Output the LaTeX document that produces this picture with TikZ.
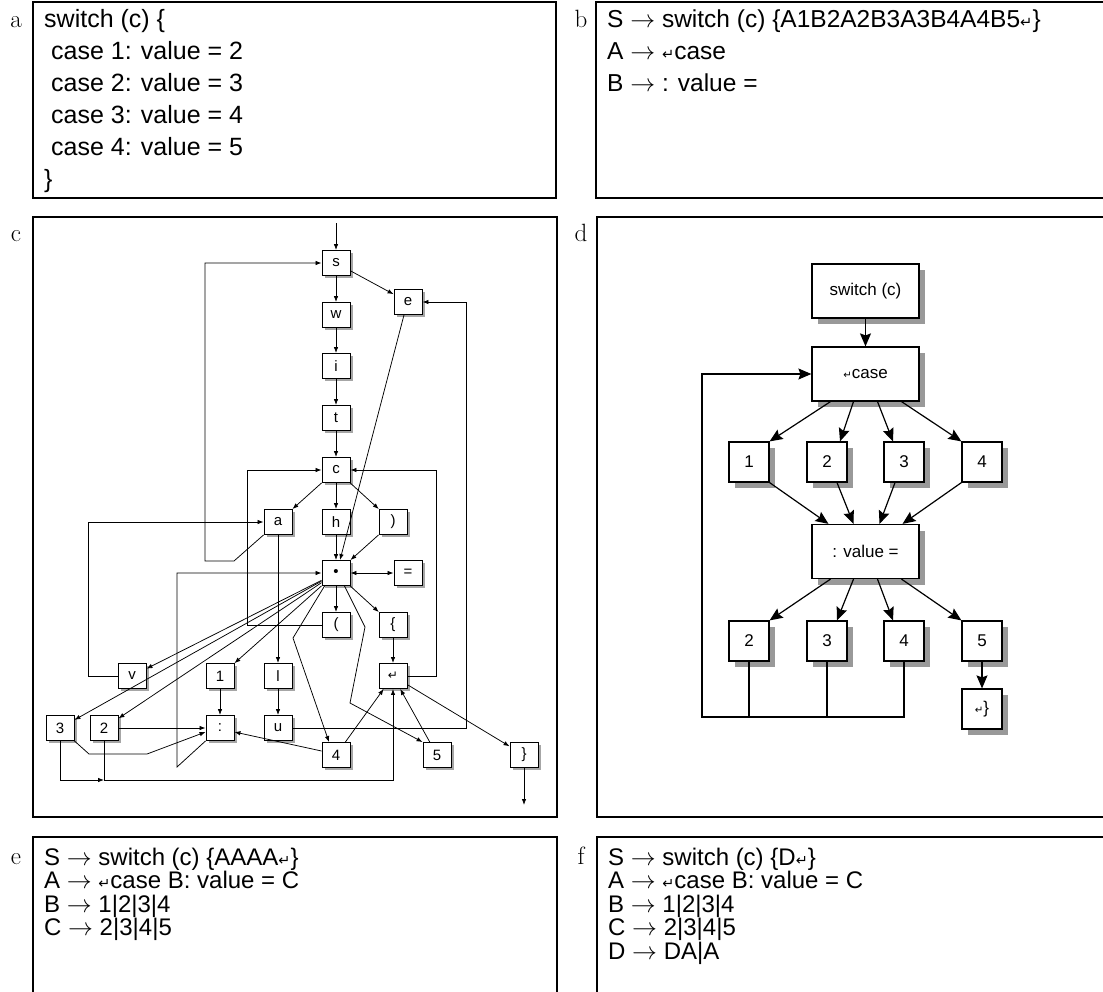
\documentclass[tikz,border=0pt]{standalone}
\usepackage{fontspec}
\usepackage{graphicx}
\usetikzlibrary{arrows.meta,shadows}
\newfontfamily\arial{Liberation Sans}
\newfontfamily\dejavu{DejaVu Sans}
\newcommand{\crt}{\scalebox{0.6}{\dejavu ↵}}
\newcommand{\crtc}{\scalebox{0.8}{\dejavu ↵}}
\tikzset{
  panel/.style={draw, line width=1.3pt},
  lab/.style={anchor=base, inner sep=0pt, font=\fontsize{25}{25}\selectfont},
  txt/.style={anchor=base west, inner sep=0pt, font=\arial\fontsize{25}{25}\selectfont},
  txtb/.style={anchor=base west, inner sep=0pt, font=\arial\fontsize{24.5}{24.5}\selectfont},
  txte/.style={anchor=base west, inner sep=0pt, font=\arial\fontsize{24}{24}\selectfont},
  cbox/.style={draw, line width=0.9pt, fill=white, minimum width=28pt, minimum height=25pt, inner sep=0pt,
    font=\arial\fontsize{15}{15}\selectfont,
    drop shadow={shadow xshift=2.5pt, shadow yshift=-2.5pt, fill=black!35, opacity=1}},
  ca/.style={line width=0.75pt, -{Latex[length=6pt,width=4.5pt]}},
  cl/.style={line width=0.75pt},
  dbox/.style={draw, line width=1.2pt, fill=white, inner sep=0pt,
    font=\arial\fontsize{17}{17}\selectfont,
    drop shadow={shadow xshift=6pt, shadow yshift=-6pt, fill=black!40, opacity=1}},
  dsq/.style={dbox, minimum width=40pt, minimum height=40pt},
  dwide/.style={dbox, minimum width=107pt, minimum height=54pt},
  da/.style={line width=1.2pt, -{Stealth[length=13pt,width=11pt,inset=2pt]}},
  dl/.style={line width=1.2pt}
}
\begin{document}
\begin{tikzpicture}[x=1pt,y=-1pt]
\useasboundingbox (0,0) rectangle (1103,991);
% ---------- panel frames ----------
\draw[panel] (33,2) rectangle (556,198);
\draw[panel] (596,2) rectangle (1106,198);
\draw[panel] (33,217) rectangle (557,817);
\draw[panel] (597,217) rectangle (1106,817);
\draw[panel] (33,837) rectangle (557,996);
\draw[panel] (597,837) rectangle (1106,996);
% ---------- labels ----------
\node[lab] (la) at (16,27) {a};
\node[lab] (lb) at (581,27) {b};
\node[lab] (lc) at (16,241) {c};
\node[lab] (ld) at (581,241) {d};
\node[lab] (le) at (16,864) {e};
\node[lab] (lf) at (581,864) {f};
% ---------- panel a ----------
\node[txt] (a1) at (44,27) {switch (c) \{};
\node[txt] (a2) at (44,59) {\ case 1: value = 2};
\node[txt] (a3) at (44,91) {\ case 2: value = 3};
\node[txt] (a4) at (44,123) {\ case 3: value = 4};
\node[txt] (a5) at (44,155) {\ case 4: value = 5};
\node[txt] (a6) at (44,187) {\}};
% ---------- panel b ----------
\node[txtb] (b1) at (607,27) {S $\rightarrow$ switch (c) \{A1B2A2B3A3B4A4B5\crt\}};
\node[txtb] (b2) at (607,59) {A $\rightarrow$ \crt case};
\node[txtb] (b3) at (607,91) {B $\rightarrow$ : value =};
% ---------- panel e ----------
\node[txte] (e1) at (44,865) {S $\rightarrow$ switch (c) \{AAAA\crt\}};
\node[txte] (e2) at (44,888.5) {A $\rightarrow$ \crt case B: value = C};
\node[txte] (e3) at (44,912) {B $\rightarrow$ 1|2|3|4};
\node[txte] (e4) at (44,935.5) {C $\rightarrow$ 2|3|4|5};
% ---------- panel f ----------
\node[txte] (f1) at (608,865) {S $\rightarrow$ switch (c) \{D\crt\}};
\node[txte] (f2) at (608,888.5) {A $\rightarrow$ \crt case B: value = C};
\node[txte] (f3) at (608,912) {B $\rightarrow$ 1|2|3|4};
\node[txte] (f4) at (608,935.5) {C $\rightarrow$ 2|3|4|5};
\node[txte] (f5) at (608,959) {D $\rightarrow$ DA|A};
% ---------- panel c : nodes ----------
\node[cbox] (cs) at (336,263) {s};
\node[cbox] (ce) at (408,302) {e};
\node[cbox] (cw) at (336,315) {w};
\node[cbox] (ci) at (336,366) {i};
\node[cbox] (ct) at (336,418) {t};
\node[cbox] (cc) at (336,470) {c};
\node[cbox] (ca) at (278,522) {a};
\node[cbox] (ch) at (336,522) {h};
\node[cbox] (crp) at (393,522) {)};
\node[cbox] (cdot) at (336,573) {\textbullet};
\node[cbox] (ceq) at (408,573) {=};
\node[cbox] (clp) at (336,625) {(};
\node[cbox] (clb) at (393,625) {\{};
\node[cbox] (cv) at (132,676) {v};
\node[cbox] (c1) at (220,676) {1};
\node[cbox] (cl) at (278,676) {l};
\node[cbox] (cret) at (393,676) {\crtc};
\node[cbox] (c3) at (60,728) {3};
\node[cbox] (c2) at (104,728) {2};
\node[cbox] (ccol) at (220,728) {:};
\node[cbox] (cu) at (278,728) {u};
\node[cbox] (c4) at (336,755) {4};
\node[cbox] (c5) at (437,755) {5};
\node[cbox] (crb) at (524,755) {\}};
\coordinate (cin) at (336,223);
\coordinate (cout) at (524,805);
% ---------- panel c : edges ----------
\draw[ca] (cin) -- (cs);
\draw[ca] (cs) -- (cw);
\draw[ca] (cw) -- (ci);
\draw[ca] (ci) -- (ct);
\draw[ca] (ct) -- (cc);
\draw[ca] (cs) -- (ce);
\draw[ca] ([xshift=-4pt]ce.south) -- ([xshift=4pt]cdot.north);
\draw[ca] (cu.east) -- ++(174,0) |- (ce.east);
\draw[ca] (cret.east) -- ++(29,0) |- (cc.east);
\draw[ca] (cc) -- (ca);
\draw[ca] (cc) -- (ch);
\draw[ca] (cc) -- (crp);
\draw[ca] (clp.west) -- ++(-74,0) |- (cc.west);
\draw[ca] (cv.west) -- ++(-29,0) |- (ca.west);
\draw[ca] (ca.south west) -- (234,561) -- (205,561) |- (cs.west);
\draw[line width=0.75pt, {Latex[length=6pt,width=4.5pt]}-{Latex[length=6pt,width=4.5pt]}] (cdot) -- (ceq);
\draw[ca] (ccol.south west) -- (177,767) |- (cdot.west);
\draw[ca] (ch) -- (cdot);
\draw[ca] (crp) -- (cdot);
\draw[ca] (cdot) -- (cv);
\draw[ca] (cdot) -- (c3);
\draw[ca] (cdot) -- (c2);
\draw[ca] (cdot) -- (c1);
\draw[ca] ([xshift=3pt]cdot.south west) -- (293,638) -- ([xshift=-7pt]c4.north);
\draw[ca] ([xshift=-6pt]cdot.south east) -- (365,627) -- (350,703) -- (c5.north west);
\draw[ca] (cdot) -- (clp);
\draw[ca] (cdot) -- (clb);
\draw[ca] (clb) -- (cret);
\draw[ca] (cret) -- (crb);
\draw[ca] (c4) -- (cret);
\draw[ca] (c5) -- (cret);
\draw[ca] (c3.south) |- (104,780);
\draw[ca] (c2.south) -- (104,780) -| (cret.south);
\draw[ca] (c2) -- (ccol);
\draw[ca] (c3.south east) -- (89,754) -- (147,754) -- ([yshift=-4pt]ccol.west);
\draw[ca] (c1) -- (ccol);
\draw[ca] (ca) -- (cl);
\draw[ca] (cl) -- (cu);
\draw[ca] ([yshift=4pt]c4.west) -- ([yshift=-4pt]ccol.east);
\draw[ca] (crb) -- (cout);
% ---------- panel d : nodes ----------
\node[dwide] (dsw) at (865.5,291) {switch (c)};
\node[dwide] (drc) at (865.5,374) {\crt case};
\node[dsq] (d1) at (749,462) {1};
\node[dsq] (d2) at (827,462) {2};
\node[dsq] (d3) at (904,462) {3};
\node[dsq] (d4) at (982,462) {4};
\node[dwide] (dval) at (865.5,551.5) {: value =};
\node[dsq] (g2) at (749,641) {2};
\node[dsq] (g3) at (827,641) {3};
\node[dsq] (g4) at (904,641) {4};
\node[dsq] (g5) at (982,641) {5};
\node[dsq] (dend) at (982,709) {\crt\}};
\coordinate (dbot) at (702,717);
% ---------- panel d : edges ----------
\draw[da] (dsw) -- (drc);
\draw[da] ([xshift=-35pt]drc.south) -- (d1.north east);
\draw[da] ([xshift=-12pt]drc.south) -- ([xshift=13pt]d2.north);
\draw[da] ([xshift=12pt]drc.south) -- ([xshift=-11pt]d3.north);
\draw[da] ([xshift=36pt]drc.south) -- (d4.north west);
\draw[da] (d1.south east) -- ([xshift=-37pt]dval.north);
\draw[da] ([xshift=10pt]d2.south) -- ([xshift=-12pt]dval.north);
\draw[da] ([xshift=-9pt]d3.south) -- ([xshift=14pt]dval.north);
\draw[da] (d4.south west) -- ([xshift=37pt]dval.north);
\draw[da] ([xshift=-35pt]dval.south) -- (g2.north east);
\draw[da] ([xshift=-12pt]dval.south) -- ([xshift=10pt]g3.north);
\draw[da] ([xshift=12pt]dval.south) -- ([xshift=-11pt]g4.north);
\draw[da] ([xshift=36pt]dval.south) -- (g5.north west);
\draw[da] (g5) -- (dend);
\draw[da] (g4.south) |- (dbot) |- (drc.west);
\draw[dl] (g2.south) -- (g2.south |- dbot);
\draw[dl] (g3.south) -- (g3.south |- dbot);
\end{tikzpicture}
\end{document}
